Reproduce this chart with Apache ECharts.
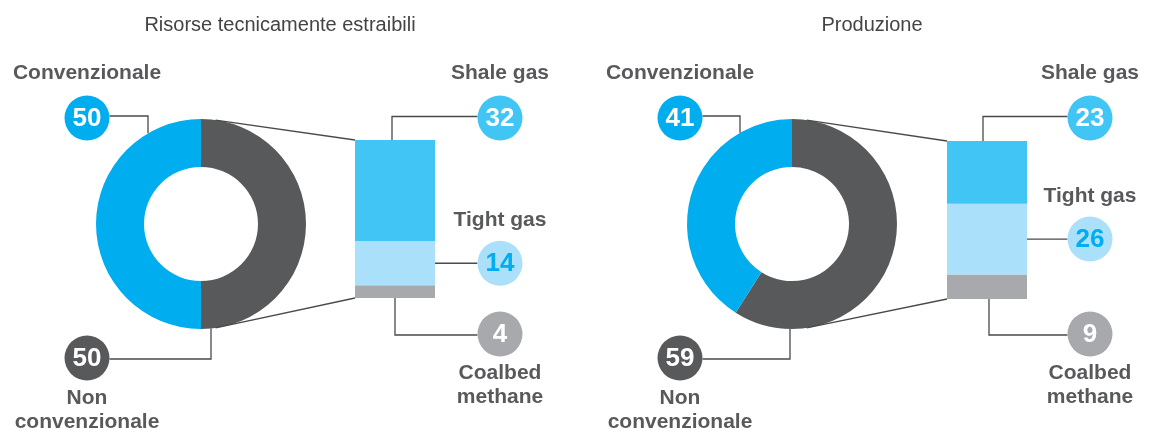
<!DOCTYPE html>
<html>
<head>
<meta charset="utf-8">
<style>
  html, body { margin: 0; padding: 0; background: #ffffff; }
  #chart { width: 1149px; height: 432px; }
</style>
<script src="https://cdn.jsdelivr.net/npm/echarts@6/dist/echarts.min.js"></script>
</head>
<body>
<div id="chart"></div>
<script>
// Panels: technically recoverable resources and production
const panelTitles = ['Risorse tecnicamente estraibili', 'Produzione'];

// Donut shares (%): conventional vs unconventional gas
const donutCategories = ['Non convenzionale', 'Convenzionale'];
const donutLabels = ['Non\nconvenzionale', 'Convenzionale'];
const nonConvenzionale = [50, 59];
const convenzionale = [50, 41];

// Breakdown of unconventional gas (%)
const unconvCategories = ['Coalbed methane', 'Tight gas', 'Shale gas'];
const unconvLabels = ['Coalbed\nmethane', 'Tight gas', 'Shale gas'];
const coalbedMethane = [4, 9];
const tightGas = [14, 26];
const shaleGas = [32, 23];

const C_BLUE = '#00adee';
const C_DARK = '#58595b';
const C_SHALE = '#40c5f4';
const C_TIGHT = '#aae0fa';
const C_COAL = '#a7a9ac';
const C_LINE = '#4a4a4c';
const FONT = '"Liberation Sans", Arial, Helvetica, sans-serif';

// Layout of each panel
const layout = [
  { cx: 201, cy: 224, barLeft: 355, barTop: 140, badgeLeftX: 87, convLineX: 148, nonLineX: 211, badgeRightX: 500, shaleLineX: 392, coalLineX: 395 },
  { cx: 792, cy: 224, barLeft: 947, barTop: 141, badgeLeftX: 680, convLineX: 740, nonLineX: 790, badgeRightX: 1090, shaleLineX: 983, coalLineX: 989 }
];
const R_IN = 57, R_OUT = 105, BAR_W = 80, BAR_H = 158, BADGE_R = 22.5;

const chart = echarts.init(document.getElementById('chart'), null, { renderer: 'canvas' });

const series = [];
const grids = [], xAxes = [], yAxes = [];
layout.forEach((p, i) => {
  series.push({
    type: 'pie',
    center: [p.cx, p.cy],
    radius: [R_IN, R_OUT],
    startAngle: 90,
    clockwise: true,
    silent: true,
    label: { show: false },
    labelLine: { show: false },
    data: [
      { name: donutCategories[0], value: nonConvenzionale[i], itemStyle: { color: C_DARK } },
      { name: donutCategories[1], value: convenzionale[i], itemStyle: { color: C_BLUE } }
    ]
  });
  grids.push({ left: p.barLeft, top: p.barTop, width: BAR_W, height: BAR_H });
  xAxes.push({ gridIndex: i, type: 'category', data: [''], show: false });
  yAxes.push({ gridIndex: i, type: 'value', min: 0, max: coalbedMethane[i] + tightGas[i] + shaleGas[i], show: false });
  const vals = [coalbedMethane[i], tightGas[i], shaleGas[i]];
  const cols = [C_COAL, C_TIGHT, C_SHALE];
  unconvCategories.forEach((name, k) => {
    series.push({
      type: 'bar', name, stack: 'u' + i, xAxisIndex: i, yAxisIndex: i,
      barWidth: BAR_W, silent: true,
      itemStyle: { color: cols[k] },
      data: [vals[k]]
    });
  });
});

chart.setOption({
  animation: false,
  grid: grids, xAxis: xAxes, yAxis: yAxes,
  series
});

// Annotations: badges, leader lines and labels placed from the drawn marks
const g = [];
function text(t, x, y, size, weight, color) {
  g.push({
    type: 'text', silent: true, z: 10,
    style: {
      text: t, x, y, fill: color,
      font: weight + ' ' + size + 'px ' + FONT,
      align: 'center', verticalAlign: 'middle',
      textAlign: 'center', textVerticalAlign: 'middle',
      lineHeight: 24
    }
  });
}
function line(points) {
  g.push({ type: 'polyline', silent: true, z: 5, shape: { points }, style: { stroke: C_LINE, lineWidth: 1.3, fill: null } });
}
function badge(x, y, value, fill, color) {
  g.push({ type: 'circle', silent: true, z: 8, shape: { cx: x, cy: y, r: BADGE_R }, style: { fill } });
  text(String(value), x, y + 1, 26, 'bold', color);
}

layout.forEach((p, i) => {
  const sum = coalbedMethane[i] + tightGas[i] + shaleGas[i];
  const py = v => chart.convertToPixel({ gridIndex: i }, [0, v])[1];
  const xc = chart.convertToPixel({ gridIndex: i }, [0, 0])[0];
  const bl = xc - BAR_W / 2, br = xc + BAR_W / 2;
  const yBottom = py(0), yTop = py(sum);
  const yTightMid = py(coalbedMethane[i] + tightGas[i] / 2);

  // title
  text(panelTitles[i], i === 0 ? 280 : 872, 25, 20, 'normal', '#444446');

  // donut to bar connectors
  const a = 8 * Math.PI / 180;
  line([[p.cx + R_OUT * Math.sin(a), p.cy - R_OUT * Math.cos(a)], [bl, yTop]]);
  line([[p.cx + R_OUT * Math.sin(a), p.cy + R_OUT * Math.cos(a)], [bl, yBottom]]);

  // conventional badge
  const convY = 118;
  const convEdgeY = p.cy - Math.sqrt(R_OUT * R_OUT - Math.pow(p.cx - p.convLineX, 2));
  line([[p.badgeLeftX + BADGE_R, convY - 2], [p.convLineX, convY - 2], [p.convLineX, convEdgeY]]);
  badge(p.badgeLeftX, convY, convenzionale[i], C_BLUE, '#ffffff');
  text(donutLabels[1], p.badgeLeftX, 73, 21, 'bold', C_DARK);

  // unconventional badge
  const nonY = 358;
  const nonEdgeY = p.cy + Math.sqrt(R_OUT * R_OUT - Math.pow(p.cx - p.nonLineX, 2));
  line([[p.badgeLeftX + BADGE_R, nonY + 1], [p.nonLineX, nonY + 1], [p.nonLineX, nonEdgeY]]);
  badge(p.badgeLeftX, nonY, nonConvenzionale[i], C_DARK, '#ffffff');
  text(donutLabels[0], p.badgeLeftX, 410, 21, 'bold', C_DARK);

  // shale gas
  const shaleY = 118;
  line([[p.shaleLineX, yTop], [p.shaleLineX, shaleY - 1.5], [p.badgeRightX - BADGE_R, shaleY - 1.5]]);
  badge(p.badgeRightX, shaleY, shaleGas[i], C_SHALE, '#ffffff');
  text(unconvLabels[2], p.badgeRightX, 73, 21, 'bold', C_DARK);

  // tight gas
  line([[br, yTightMid], [p.badgeRightX - BADGE_R, yTightMid]]);
  badge(p.badgeRightX, yTightMid, tightGas[i], C_TIGHT, C_BLUE);
  text(unconvLabels[1], p.badgeRightX, yTightMid - 43, 21, 'bold', C_DARK);

  // coalbed methane
  const coalY = 334;
  line([[p.coalLineX, yBottom], [p.coalLineX, coalY + 1], [p.badgeRightX - BADGE_R, coalY + 1]]);
  badge(p.badgeRightX, coalY, coalbedMethane[i], C_COAL, '#ffffff');
  text(unconvLabels[0], p.badgeRightX, 385, 21, 'bold', C_DARK);
});

chart.setOption({ graphic: { elements: g } });
</script>
</body>
</html>
